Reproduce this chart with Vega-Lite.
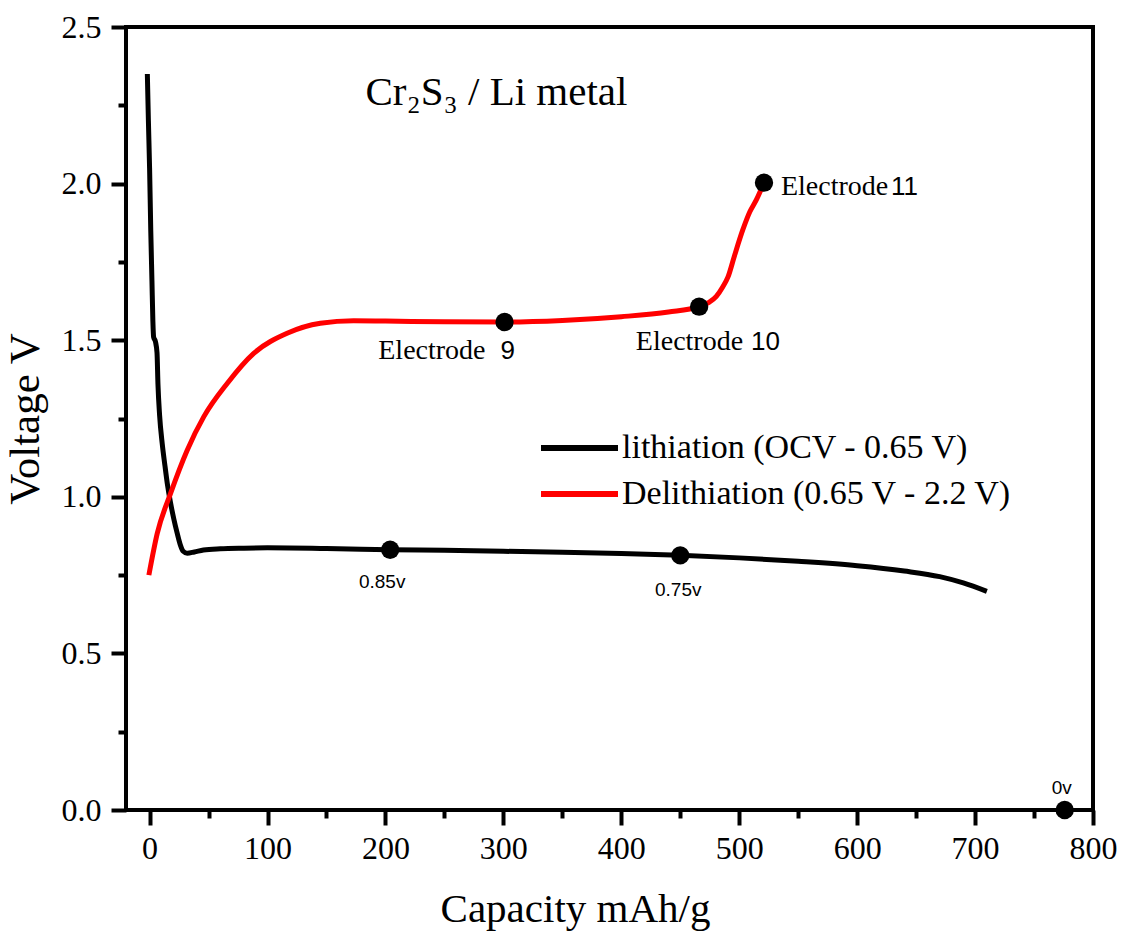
{
  "$schema": "https://vega.github.io/schema/vega-lite/v6.json",
  "width": 967,
  "height": 783,
  "autosize": {"type": "none"},
  "padding": {"left": 126, "top": 27, "right": 32, "bottom": 121},
  "background": "white",
  "config": {"view": {"stroke": "black", "strokeWidth": 4}, "font": "Liberation Serif"},
  "datasets": {
    "curves": [
      {"series": "lithiation (OCV - 0.65 V)", "capacity": -1.9, "voltage": 2.35},
      {"series": "lithiation (OCV - 0.65 V)", "capacity": -1.0, "voltage": 2.2},
      {"series": "lithiation (OCV - 0.65 V)", "capacity": 0.0, "voltage": 2.05},
      {"series": "lithiation (OCV - 0.65 V)", "capacity": 1.0, "voltage": 1.85},
      {"series": "lithiation (OCV - 0.65 V)", "capacity": 2.0, "voltage": 1.69},
      {"series": "lithiation (OCV - 0.65 V)", "capacity": 2.8, "voltage": 1.56},
      {"series": "lithiation (OCV - 0.65 V)", "capacity": 3.4, "voltage": 1.51},
      {"series": "lithiation (OCV - 0.65 V)", "capacity": 5.0, "voltage": 1.495},
      {"series": "lithiation (OCV - 0.65 V)", "capacity": 6.3, "voltage": 1.46},
      {"series": "lithiation (OCV - 0.65 V)", "capacity": 7.1, "voltage": 1.36},
      {"series": "lithiation (OCV - 0.65 V)", "capacity": 8.5, "voltage": 1.26},
      {"series": "lithiation (OCV - 0.65 V)", "capacity": 10.7, "voltage": 1.17},
      {"series": "lithiation (OCV - 0.65 V)", "capacity": 13.0, "voltage": 1.1},
      {"series": "lithiation (OCV - 0.65 V)", "capacity": 15.0, "voltage": 1.043},
      {"series": "lithiation (OCV - 0.65 V)", "capacity": 17.8, "voltage": 0.98},
      {"series": "lithiation (OCV - 0.65 V)", "capacity": 20.5, "voltage": 0.93},
      {"series": "lithiation (OCV - 0.65 V)", "capacity": 23.4, "voltage": 0.884},
      {"series": "lithiation (OCV - 0.65 V)", "capacity": 26.2, "voltage": 0.845},
      {"series": "lithiation (OCV - 0.65 V)", "capacity": 28.5, "voltage": 0.826},
      {"series": "lithiation (OCV - 0.65 V)", "capacity": 31.9, "voltage": 0.82},
      {"series": "lithiation (OCV - 0.65 V)", "capacity": 38, "voltage": 0.824},
      {"series": "lithiation (OCV - 0.65 V)", "capacity": 45.7, "voltage": 0.83},
      {"series": "lithiation (OCV - 0.65 V)", "capacity": 60, "voltage": 0.834},
      {"series": "lithiation (OCV - 0.65 V)", "capacity": 80, "voltage": 0.836},
      {"series": "lithiation (OCV - 0.65 V)", "capacity": 100, "voltage": 0.837},
      {"series": "lithiation (OCV - 0.65 V)", "capacity": 150, "voltage": 0.835},
      {"series": "lithiation (OCV - 0.65 V)", "capacity": 204, "voltage": 0.831},
      {"series": "lithiation (OCV - 0.65 V)", "capacity": 250, "voltage": 0.829},
      {"series": "lithiation (OCV - 0.65 V)", "capacity": 300, "voltage": 0.826},
      {"series": "lithiation (OCV - 0.65 V)", "capacity": 350, "voltage": 0.823},
      {"series": "lithiation (OCV - 0.65 V)", "capacity": 400, "voltage": 0.819},
      {"series": "lithiation (OCV - 0.65 V)", "capacity": 450, "voltage": 0.813},
      {"series": "lithiation (OCV - 0.65 V)", "capacity": 500, "voltage": 0.805},
      {"series": "lithiation (OCV - 0.65 V)", "capacity": 550, "voltage": 0.794},
      {"series": "lithiation (OCV - 0.65 V)", "capacity": 600, "voltage": 0.78},
      {"series": "lithiation (OCV - 0.65 V)", "capacity": 640, "voltage": 0.763},
      {"series": "lithiation (OCV - 0.65 V)", "capacity": 670, "voltage": 0.745},
      {"series": "lithiation (OCV - 0.65 V)", "capacity": 690, "voltage": 0.725},
      {"series": "lithiation (OCV - 0.65 V)", "capacity": 710, "voltage": 0.698},
      {"series": "Delithiation (0.65 V - 2.2 V)", "capacity": -0.6, "voltage": 0.75},
      {"series": "Delithiation (0.65 V - 2.2 V)", "capacity": 6.5, "voltage": 0.883},
      {"series": "Delithiation (0.65 V - 2.2 V)", "capacity": 17.8, "voltage": 1.011},
      {"series": "Delithiation (0.65 V - 2.2 V)", "capacity": 31.9, "voltage": 1.149},
      {"series": "Delithiation (0.65 V - 2.2 V)", "capacity": 46, "voltage": 1.256},
      {"series": "Delithiation (0.65 V - 2.2 V)", "capacity": 65.8, "voltage": 1.362},
      {"series": "Delithiation (0.65 V - 2.2 V)", "capacity": 88.3, "voltage": 1.458},
      {"series": "Delithiation (0.65 V - 2.2 V)", "capacity": 116.6, "voltage": 1.522},
      {"series": "Delithiation (0.65 V - 2.2 V)", "capacity": 144.8, "voltage": 1.554},
      {"series": "Delithiation (0.65 V - 2.2 V)", "capacity": 173, "voltage": 1.562},
      {"series": "Delithiation (0.65 V - 2.2 V)", "capacity": 200, "voltage": 1.561},
      {"series": "Delithiation (0.65 V - 2.2 V)", "capacity": 250, "voltage": 1.559},
      {"series": "Delithiation (0.65 V - 2.2 V)", "capacity": 301, "voltage": 1.558},
      {"series": "Delithiation (0.65 V - 2.2 V)", "capacity": 350, "voltage": 1.563},
      {"series": "Delithiation (0.65 V - 2.2 V)", "capacity": 400, "voltage": 1.575},
      {"series": "Delithiation (0.65 V - 2.2 V)", "capacity": 440, "voltage": 1.59},
      {"series": "Delithiation (0.65 V - 2.2 V)", "capacity": 466, "voltage": 1.607},
      {"series": "Delithiation (0.65 V - 2.2 V)", "capacity": 474, "voltage": 1.62},
      {"series": "Delithiation (0.65 V - 2.2 V)", "capacity": 480.6, "voltage": 1.64},
      {"series": "Delithiation (0.65 V - 2.2 V)", "capacity": 486, "voltage": 1.67},
      {"series": "Delithiation (0.65 V - 2.2 V)", "capacity": 490.5, "voltage": 1.702},
      {"series": "Delithiation (0.65 V - 2.2 V)", "capacity": 496, "voltage": 1.77},
      {"series": "Delithiation (0.65 V - 2.2 V)", "capacity": 503, "voltage": 1.852},
      {"series": "Delithiation (0.65 V - 2.2 V)", "capacity": 509, "voltage": 1.91},
      {"series": "Delithiation (0.65 V - 2.2 V)", "capacity": 514.5, "voltage": 1.948},
      {"series": "Delithiation (0.65 V - 2.2 V)", "capacity": 521, "voltage": 2.003}
    ],
    "markers": [
      {"label": "Electrode 9", "word": "Electrode", "num": "9", "capacity": 301, "voltage": 1.558},
      {"label": "Electrode 10", "word": "Electrode", "num": "10", "capacity": 466, "voltage": 1.607},
      {"label": "Electrode 11", "word": "Electrode", "num": "11", "capacity": 521, "voltage": 2.003},
      {"label": "0.85v", "word": "", "num": "", "capacity": 204, "voltage": 0.831},
      {"label": "0.75v", "word": "", "num": "", "capacity": 450, "voltage": 0.813},
      {"label": "0v", "word": "", "num": "", "capacity": 776, "voltage": 0}
    ]
  },
  "layer": [
    {
      "data": {"name": "curves"},
      "mark": {"type": "line", "strokeWidth": 5, "interpolate": "monotone"},
      "encoding": {
        "x": {
          "field": "capacity", "type": "quantitative",
          "scale": {"domain": [-20, 800], "nice": false, "zero": false},
          "axis": {
            "title": "Capacity mAh/g",
            "values": [0, 50, 100, 150, 200, 250, 300, 350, 400, 450, 500, 550, 600, 650, 700, 750, 800],
            "labelExpr": "datum.value % 100 === 0 ? datum.label : ''",
            "tickSize": {"condition": {"test": "datum.value % 100 === 0", "value": 15}, "value": 8},
            "tickWidth": 4, "tickColor": "black", "domain": false, "grid": false,
            "labelFont": "Liberation Serif", "labelFontSize": 32, "labelColor": "black",
            "labelPadding": 8, "labelFlush": false, "labelOverlap": false,
            "titleFont": "Liberation Serif", "titleFontSize": 41, "titleFontWeight": "normal",
            "titleColor": "black", "titleX": 449, "titleY": 111, "titleAlign": "center", "titleBaseline": "alphabetic"
          }
        },
        "y": {
          "field": "voltage", "type": "quantitative",
          "scale": {"domain": [0, 2.5], "nice": false, "zero": false},
          "axis": {
            "title": "Voltage V",
            "values": [0, 0.25, 0.5, 0.75, 1, 1.25, 1.5, 1.75, 2, 2.25, 2.5],
            "labelExpr": "abs(datum.value * 2 - round(datum.value * 2)) < 0.001 ? format(datum.value, '.1f') : ''",
            "tickSize": {"condition": {"test": "abs(datum.value * 2 - round(datum.value * 2)) < 0.001", "value": 15}, "value": 8},
            "tickWidth": 4, "tickColor": "black", "domain": false, "grid": false,
            "labelFont": "Liberation Serif", "labelFontSize": 32, "labelColor": "black",
            "labelPadding": 10, "labelFlush": false, "labelOverlap": false,
            "titleFont": "Liberation Serif", "titleFontSize": 43, "titleFontWeight": "normal",
            "titleColor": "black", "titlePadding": 14
          }
        },
        "color": {
          "field": "series", "type": "nominal",
          "scale": {"domain": ["lithiation (OCV - 0.65 V)", "Delithiation (0.65 V - 2.2 V)"], "range": ["black", "#ff0000"]},
          "legend": {
            "orient": "none", "legendX": 412, "legendY": 398, "title": null,
            "symbolType": "stroke", "symbolSize": 5929, "symbolStrokeWidth": 6,
            "labelFont": "Liberation Serif", "labelFontSize": 34, "labelColor": "black",
            "labelOffset": 1, "clipHeight": 46, "rowPadding": 0, "padding": 0, "labelLimit": 600
          }
        }
      }
    },
    {
      "data": {"name": "markers"},
      "mark": {"type": "point", "filled": true, "color": "black", "opacity": 1, "size": 336},
      "encoding": {
        "x": {"field": "capacity", "type": "quantitative"},
        "y": {"field": "voltage", "type": "quantitative"}
      }
    },
    {
      "data": {"name": "markers"},
      "transform": [{"filter": "datum.label === 'Electrode 9'"}],
      "layer": [
        {
          "mark": {"type": "text", "font": "Liberation Serif", "fontSize": 28, "color": "black", "align": "right", "baseline": "alphabetic", "dx": -19, "dy": 37},
          "encoding": {"text": {"field": "word"}}
        },
        {
          "mark": {"type": "text", "font": "Liberation Sans", "fontSize": 26, "color": "black", "align": "left", "baseline": "alphabetic", "dx": -4, "dy": 37},
          "encoding": {"text": {"field": "num"}}
        }
      ],
      "encoding": {
        "x": {"field": "capacity", "type": "quantitative"},
        "y": {"field": "voltage", "type": "quantitative"}
      }
    },
    {
      "data": {"name": "markers"},
      "transform": [{"filter": "datum.label === 'Electrode 10'"}],
      "layer": [
        {
          "mark": {"type": "text", "font": "Liberation Serif", "fontSize": 28, "color": "black", "align": "right", "baseline": "alphabetic", "dx": 44, "dy": 43},
          "encoding": {"text": {"field": "word"}}
        },
        {
          "mark": {"type": "text", "font": "Liberation Sans", "fontSize": 26, "color": "black", "align": "left", "baseline": "alphabetic", "dx": 52, "dy": 43},
          "encoding": {"text": {"field": "num"}}
        }
      ],
      "encoding": {
        "x": {"field": "capacity", "type": "quantitative"},
        "y": {"field": "voltage", "type": "quantitative"}
      }
    },
    {
      "data": {"name": "markers"},
      "transform": [{"filter": "datum.label === 'Electrode 11'"}],
      "layer": [
        {
          "mark": {"type": "text", "font": "Liberation Serif", "fontSize": 28, "color": "black", "align": "left", "baseline": "alphabetic", "dx": 17, "dy": 12},
          "encoding": {"text": {"field": "word"}}
        },
        {
          "mark": {"type": "text", "font": "Liberation Sans", "fontSize": 26, "color": "black", "align": "left", "baseline": "alphabetic", "dx": 127, "dy": 12},
          "encoding": {"text": {"field": "num"}}
        }
      ],
      "encoding": {
        "x": {"field": "capacity", "type": "quantitative"},
        "y": {"field": "voltage", "type": "quantitative"}
      }
    },
    {
      "data": {"name": "markers"},
      "transform": [{"filter": "datum.label === '0.85v'"}],
      "mark": {"type": "text", "font": "Liberation Sans", "fontSize": 19, "color": "black", "align": "center", "baseline": "alphabetic", "dx": -8, "dy": 38},
      "encoding": {
        "x": {"field": "capacity", "type": "quantitative"},
        "y": {"field": "voltage", "type": "quantitative"},
        "text": {"field": "label"}
      }
    },
    {
      "data": {"name": "markers"},
      "transform": [{"filter": "datum.label === '0.75v'"}],
      "mark": {"type": "text", "font": "Liberation Sans", "fontSize": 19, "color": "black", "align": "center", "baseline": "alphabetic", "dx": -2, "dy": 41},
      "encoding": {
        "x": {"field": "capacity", "type": "quantitative"},
        "y": {"field": "voltage", "type": "quantitative"},
        "text": {"field": "label"}
      }
    },
    {
      "data": {"name": "markers"},
      "transform": [{"filter": "datum.label === '0v'"}],
      "mark": {"type": "text", "font": "Liberation Sans", "fontSize": 19, "color": "black", "align": "center", "baseline": "alphabetic", "dx": -3, "dy": -16},
      "encoding": {
        "x": {"field": "capacity", "type": "quantitative"},
        "y": {"field": "voltage", "type": "quantitative"},
        "text": {"field": "label"}
      }
    },
    {
      "data": {"values": [{"text": "Cr₂S₃ / Li metal"}]},
      "mark": {"type": "text", "font": "Liberation Serif", "fontSize": 41, "color": "black", "align": "left", "baseline": "alphabetic"},
      "encoding": {
        "x": {"datum": 183, "type": "quantitative"},
        "y": {"datum": 2.251, "type": "quantitative"},
        "text": {"field": "text"}
      }
    }
  ]
}
